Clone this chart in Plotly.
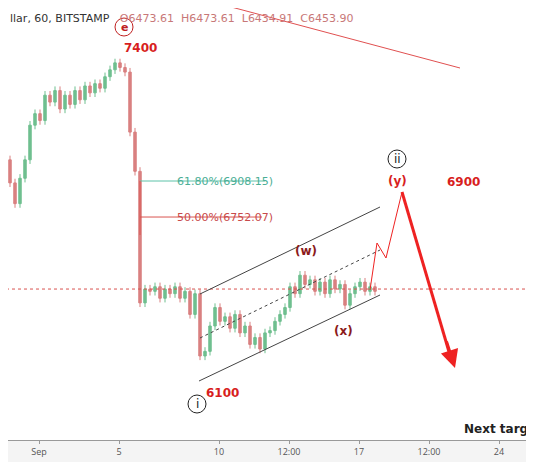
import plotly.graph_objects as go

# x in days since Sep 1 (chart time axis), closes read every ~quarter day
days = [(px - 39) / 20 for px in range(0, 380, 5)]
closes = [7040, 7000, 6900, 6810, 6920, 7000, 7150, 7200, 7170, 7280, 7250, 7300,
          7220, 7280, 7240, 7300, 7260, 7320, 7290, 7330, 7310, 7360, 7390, 7420,
          7400, 7380, 7120, 6950, 6380, 6440, 6430, 6450, 6400, 6440, 6420, 6450,
          6400, 6430, 6330, 6420, 6150, 6170, 6280, 6360, 6300, 6320, 6270, 6330,
          6250, 6280, 6200, 6230, 6180, 6250, 6260, 6300, 6330, 6360, 6450, 6420,
          6500, 6460, 6480, 6430, 6470, 6420, 6480, 6440, 6460, 6370, 6420, 6450,
          6470, 6430, 6450, 6430]
opens = [closes[0] + 30] + closes[:-1]
highs = [max(o, c) + 18 for o, c in zip(opens, closes)]
lows = [min(o, c) - 18 for o, c in zip(opens, closes)]

tick_vals = [0, 4, 9, 12.5, 16, 19.5, 23]
tick_text = ["Sep", "5", "10", "12:00", "17", "12:00", "24"]

fib_levels = [6908.15, 6752.07]
fib_labels = ["61.80%(6908.15)", "50.00%(6752.07)"]
last_price = 6440


def P(py):  # screen pixel row -> price, used only for guides/labels
    return 6908.15 - (py - 181) * 4.333


def X(px):
    return (px - 39) / 20


fig = go.Figure()
fig.add_trace(go.Candlestick(
    x=days, open=opens, high=highs, low=lows, close=closes,
    increasing=dict(line=dict(color="#6fbf8f", width=1), fillcolor="#6fbf8f"),
    decreasing=dict(line=dict(color="#d98080", width=1), fillcolor="#d98080"),
    whiskerwidth=0, showlegend=False,
))

shapes = []
# fib lines
shapes.append(dict(type="line", x0=X(140), x1=X(265), y0=fib_levels[0], y1=fib_levels[0],
                   line=dict(color="#5cc2a8", width=1)))
shapes.append(dict(type="line", x0=X(140), x1=X(262), y0=fib_levels[1], y1=fib_levels[1],
                   line=dict(color="#d9534f", width=1)))
shapes.append(dict(type="line", x0=X(140), x1=X(140), y0=fib_levels[0], y1=P(235),
                   line=dict(color="#d9534f", width=1)))
# current price
shapes.append(dict(type="line", x0=X(0), x1=X(534), y0=last_price, y1=last_price,
                   line=dict(color="#d9534f", width=1, dash="dot")))
# channel
for (a, b, d) in [((200, 294), (380, 207), "solid"), ((199, 381), (380, 295), "solid"),
                  ((200, 338), (380, 250), "dot")]:
    shapes.append(dict(type="line", x0=X(a[0]), y0=P(a[1]), x1=X(b[0]), y1=P(b[1]),
                       line=dict(color="#444", width=1, dash=d)))
# top trend line
shapes.append(dict(type="line", x0=X(205), y0=P(0), x1=X(460), y1=P(68),
                   line=dict(color="#e05050", width=1)))
# projection
proj = [(370, 290), (377, 243), (386, 258), (402, 192), (452, 362)]
for a, b in zip(proj[:-1], proj[1:]):
    shapes.append(dict(type="line", x0=X(a[0]), y0=P(a[1]), x1=X(b[0]), y1=P(b[1]),
                       line=dict(color="#ee2222", width=3 if a[0] == 402 else 1)))
fig.update_layout(shapes=shapes)

ann = [
    (X(175), P(181), fib_labels[0], "#4aae95", 11, "left"),
    (X(175), P(217), fib_labels[1], "#c84a4a", 11, "left"),
    (X(124), P(27), "<b>e</b>", "#c02020", 11, "center"),
    (X(140), P(48), "<b>7400</b>", "#d81e1e", 12, "center"),
    (X(306), P(251), "<b>(w)</b>", "#8b1a1a", 12, "center"),
    (X(343), P(331), "<b>(x)</b>", "#8b1a1a", 12, "center"),
    (X(397), P(181), "<b>(y)</b>", "#d81e1e", 12, "center"),
    (X(397), P(159), "ii", "#222", 12, "center"),
    (X(463), P(182), "<b>6900</b>", "#d81e1e", 12, "center"),
    (X(197), P(404), "i", "#222", 12, "center"),
    (X(222), P(393), "<b>6100</b>", "#d81e1e", 12, "center"),
    (X(462), P(429), "<b>Next target:</b>", "#222", 12, "left"),
]
for x, y, t, c, s, al in ann:
    fig.add_annotation(x=x, y=y, text=t, showarrow=False, xanchor=al,
                       font=dict(color=c, size=s, family="DejaVu Sans"))
for px, py, col in [(124, 27, "#c02020"), (397, 159, "#222"), (197, 404, "#222")]:
    fig.add_shape(type="circle", xref="x", yref="y", x0=X(px - 9), x1=X(px + 9),
                  y0=P(py + 9), y1=P(py - 9), line=dict(color=col, width=1))
# arrow head
fig.add_annotation(x=X(455), y=P(368), ax=X(446), ay=P(340), xref="x", yref="y",
                   axref="x", ayref="y", text="", showarrow=True, arrowhead=2,
                   arrowsize=1.2, arrowwidth=3, arrowcolor="#ee2222")
fig.add_annotation(x=0, y=1, xref="paper", yref="paper", xanchor="left", yanchor="top",
                   yshift=-2, showarrow=False,
                   text="llar, 60, BITSTAMP  <span style='color:#c87878'> O6473.61  H6473.61  L6434.91  C6453.90</span>",
                   font=dict(size=11, color="#333", family="DejaVu Sans"))

# page has an 8px body margin, so the figure covers screen px 8..534 / 8..462
fig.update_xaxes(range=[X(8), X(534)], tickvals=tick_vals, ticktext=tick_text,
                 showgrid=False, zeroline=False, showline=True, linecolor="#999",
                 ticks="outside", ticklen=3, tickcolor="#999",
                 tickfont=dict(size=9, color="#555"), rangeslider=dict(visible=False))
fig.update_yaxes(range=[P(440), P(8)], visible=False)
fig.update_layout(width=526, height=454, margin=dict(l=0, r=0, t=0, b=22),
                  plot_bgcolor="white", paper_bgcolor="#f4f4f4")
fig.write_html("out.html")
